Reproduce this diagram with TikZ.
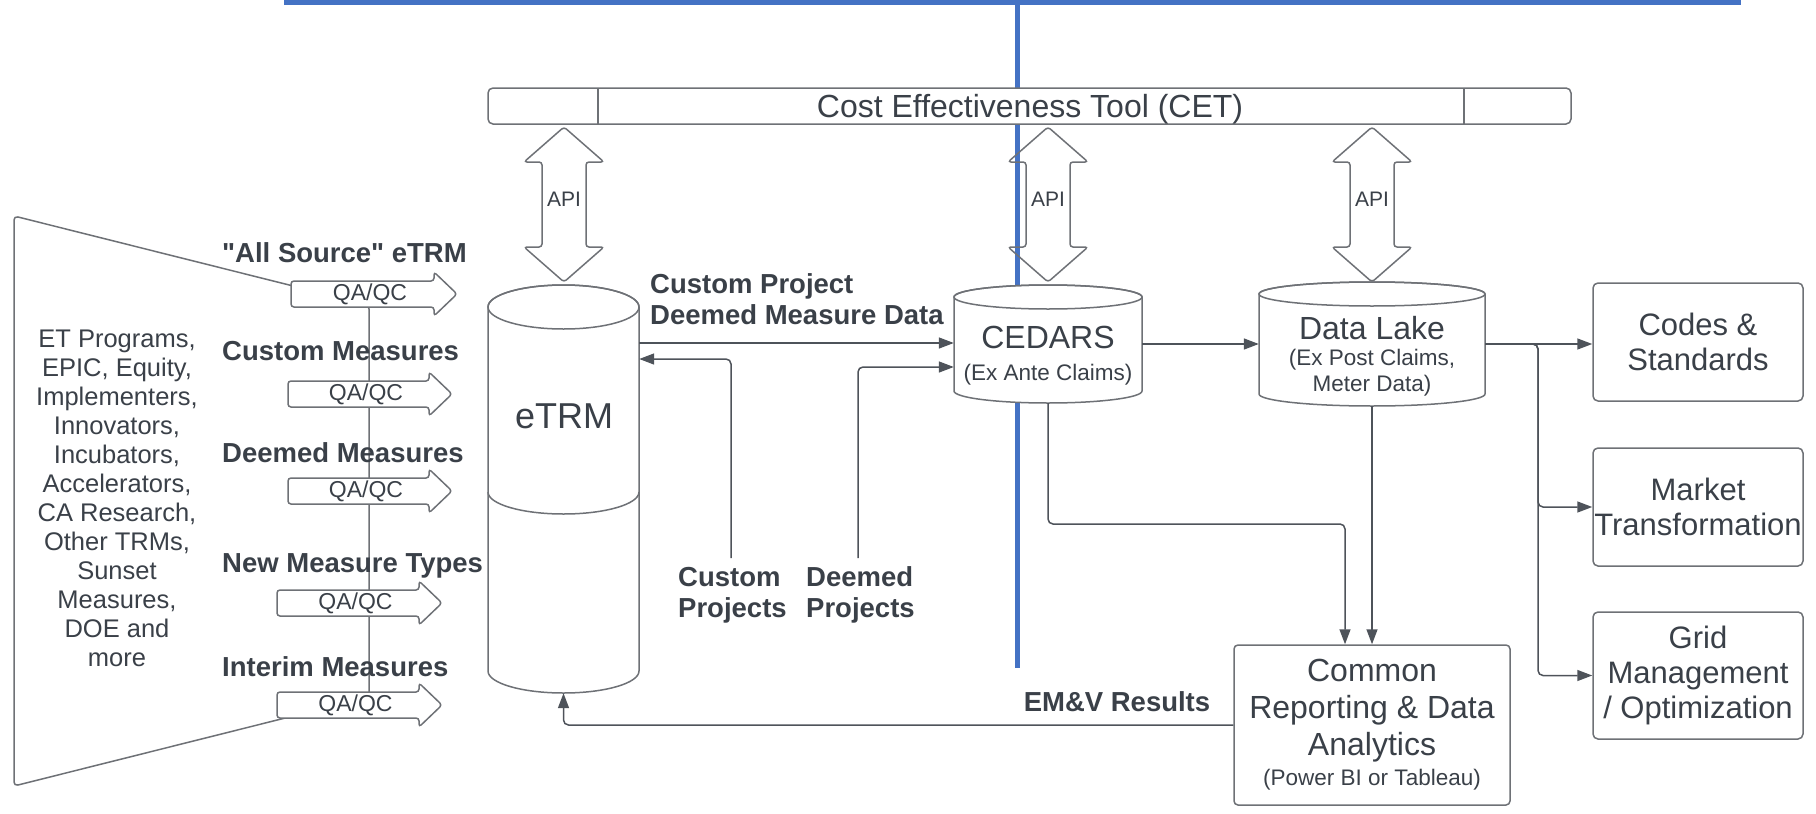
\documentclass[tikz,border=0pt]{standalone}
\usepackage{fontspec}
\setmainfont{Liberation Sans}[Ligatures=TeXOff]
\usetikzlibrary{arrows.meta}
\definecolor{txt}{HTML}{3A4048}
\definecolor{edgec}{HTML}{6E7176}
\definecolor{connc}{HTML}{4E535A}
\definecolor{bluec}{HTML}{4472C4}
\tikzset{
  shapeline/.style={draw=edgec, line width=1.5pt},
  box/.style={shapeline, fill=white, rounded corners=5pt, inner sep=0pt, text=txt, align=center, font=\fontsize{31pt}{35pt}\selectfont},
  conn/.style={draw=connc, line width=1.5pt, rounded corners=5pt, -{Triangle[length=15pt,width=11pt,fill=connc]}},
  boldlbl/.style={text=txt, inner sep=0pt, font=\bfseries\fontsize{27.5pt}{31pt}\selectfont, align=left},
  maintxt/.style={text=txt, inner sep=0pt, font=\fontsize{32pt}{37pt}\selectfont},
  subtxt/.style={text=txt, inner sep=0pt, font=\fontsize{22.5pt}{26pt}\selectfont},
  apitxt/.style={text=txt, inner sep=0pt, font=\fontsize{21pt}{25pt}\selectfont},
  qatxt/.style={text=txt, inner sep=0pt, font=\fontsize{23pt}{27pt}\selectfont},
  blueln/.style={draw=bluec, line width=5pt},
}
\newcommand\QAarrow[4]{%
  \draw[shapeline, fill=white, rounded corners=3pt] (#2,#4-13) -- (#3-23,#4-13) -- (#3-23,#4-22) -- (#3,#4) -- (#3-23,#4+22) -- (#3-23,#4+13) -- (#2,#4+13) -- cycle;
  \node[qatxt, anchor=base] (#1) at ({(#2+#3)/2-4},#4+6) {QA/QC};}
\newcommand\APIarrow[2]{%
  \draw[shapeline, rounded corners=3pt] (#2,127) -- (#2+40,162) -- (#2+22,162) -- (#2+22,247) -- (#2+40,247) -- (#2,282) -- (#2-40,247) -- (#2-22,247) -- (#2-22,162) -- (#2-40,162) -- cycle;
  \node[apitxt, anchor=base] (#1) at (#2,206.5) {API};}
% left, right, top, lowest, ry
\newcommand\Cyl[5]{%
  \draw[shapeline, fill=white] (#1,#3+#5) -- (#1,#4-#5) arc[start angle=180, end angle=0, x radius={(#2-#1)/2}, y radius=#5] -- (#2,#3+#5) arc[start angle=0, end angle=-180, x radius={(#2-#1)/2}, y radius=#5] -- cycle;
  \draw[shapeline] ({(#1+#2)/2},#3+#5) ellipse [x radius={(#2-#1)/2}, y radius=#5];}
\begin{document}
\begin{tikzpicture}[x=1pt, y=-1pt]
\useasboundingbox (0,0) rectangle (1816,814);
% blue lines
\draw[blueln] (284,2.5) -- (1741,2.5);
\draw[blueln] (1017,0) -- (1017,668);
% source trapezoid
\draw[shapeline, rounded corners=4pt] (14,216) -- (369,305) -- (369,697) -- (14,786) -- cycle;
\node[text=txt, align=center, inner sep=0pt, font=\fontsize{25.5pt}{29pt}\selectfont] (srctxt) at (117,498)
  {ET Programs,\\EPIC, Equity,\\Implementers,\\Innovators,\\Incubators,\\Accelerators,\\CA Research,\\Other TRMs,\\Sunset\\Measures,\\DOE and\\more};
% labels
\node[boldlbl, anchor=base west] (lall) at (222,262) {"All Source" eTRM};
\node[boldlbl, anchor=base west] (lcus) at (222,360.5) {Custom Measures};
\node[boldlbl, anchor=base west] (ldee) at (222,462) {Deemed Measures};
\node[boldlbl, anchor=base west] (lnew) at (222,572) {New Measure Types};
\node[boldlbl, anchor=base west] (lint) at (222,676) {Interim Measures};
% QA/QC arrows
\QAarrow{qa1}{291}{457}{294}
\QAarrow{qa2}{288}{452}{394}
\QAarrow{qa3}{288}{452}{491}
\QAarrow{qa4}{277}{442}{603}
\QAarrow{qa5}{277}{442}{705}
% CET bar
\node[shapeline, fill=white, rounded corners=5pt, inner sep=0pt, minimum width=1083pt, minimum height=36pt] (cet) at (1029.5,106) {};
\draw[shapeline] (598,88) -- (598,124);
\draw[shapeline] (1464,88) -- (1464,124);
\node[maintxt, anchor=base] (cettxt) at (1030,117.5) {Cost Effectiveness Tool (CET)};
% API arrows
\APIarrow{api1}{564}
\APIarrow{api2}{1048}
\APIarrow{api3}{1372}
% eTRM cylinder
\Cyl{488}{639}{285}{693}{22}
\draw[shapeline] (488,492) arc[start angle=180, end angle=0, x radius=75.5, y radius=22];
\node[inner sep=0pt, minimum width=151pt, minimum height=408pt] (etrm) at (563.5,489) {};
\node[text=txt, inner sep=0pt, font=\fontsize{36pt}{40pt}\selectfont, anchor=base] (etrmtxt) at (564,428) {eTRM};
% CEDARS
\Cyl{954}{1142}{285}{403}{12}
\node[inner sep=0pt, minimum width=188pt, minimum height=118pt] (cedars) at (1048,344) {};
\node[maintxt, anchor=base] (cedtxt) at (1048,348.5) {CEDARS};
\node[subtxt, anchor=base] (cedsub) at (1048,380) {(Ex Ante Claims)};
% Data Lake
\Cyl{1259}{1485}{282}{406}{12}
\node[inner sep=0pt, minimum width=226pt, minimum height=124pt] (dlake) at (1372,344) {};
\node[maintxt, anchor=base] (dltxt) at (1372,339.5) {Data Lake};
\node[subtxt, anchor=base] (dlsub1) at (1372,365) {(Ex Post Claims,};
\node[subtxt, anchor=base] (dlsub2) at (1372,391) {Meter Data)};
% boxes
\node[box, rounded corners=4pt, minimum width=276pt, minimum height=160pt, font=\fontsize{32pt}{37pt}\selectfont] (common) at (1372,725)
  {Common\\Reporting \& Data\\Analytics\\[-7pt]{\fontsize{22.5pt}{26pt}\selectfont (Power BI or Tableau)}};
\node[box, minimum width=210pt, minimum height=118pt] (codes) at (1698,342) {Codes \&\\Standards};
\node[box, minimum width=210pt, minimum height=118pt] (market) at (1698,507) {Market\\Transformation};
\node[box, minimum width=210pt, minimum height=127pt] (grid) at (1698,675.5) {Grid\\Management\\/ Optimization};
% connectors
\coordinate (cpstart) at (731,558);
\coordinate (dpstart) at (858,558);
\coordinate (fan) at (1538,344);
\draw[conn] (etrm.east |- 0,343) -- (cedars.west |- 0,343);
\draw[conn] (cpstart) |- (etrm.east |- 0,359);
\draw[conn] (dpstart) |- (cedars.west |- 0,367);
\draw[conn] (cedars.east) -- (dlake.west);
\draw[conn] (cedars.south) |- (1345,524) -- (common.north -| 1345,0);
\draw[conn] (dlake.south) -- (common.north -| dlake.south);
\draw[conn] (dlake.east) -- (codes.west |- dlake.east);
\draw[conn] (dlake.east) -- (fan) |- (market.west);
\draw[conn] (dlake.east) -- (fan) |- (grid.west);
\draw[conn] (common.west) -| (etrm.south);
% connector labels
\node[boldlbl, anchor=west] (lcpd) at (650,299) {Custom Project\\Deemed Measure Data};
\node[boldlbl, anchor=west] (lcp) at (678,595) {Custom\\Projects};
\node[boldlbl, anchor=west] (ldp) at (806,595) {Deemed\\Projects};
\node[boldlbl] (lemv) at (1117,702) {EM\&V Results};
\end{tikzpicture}
\end{document}
